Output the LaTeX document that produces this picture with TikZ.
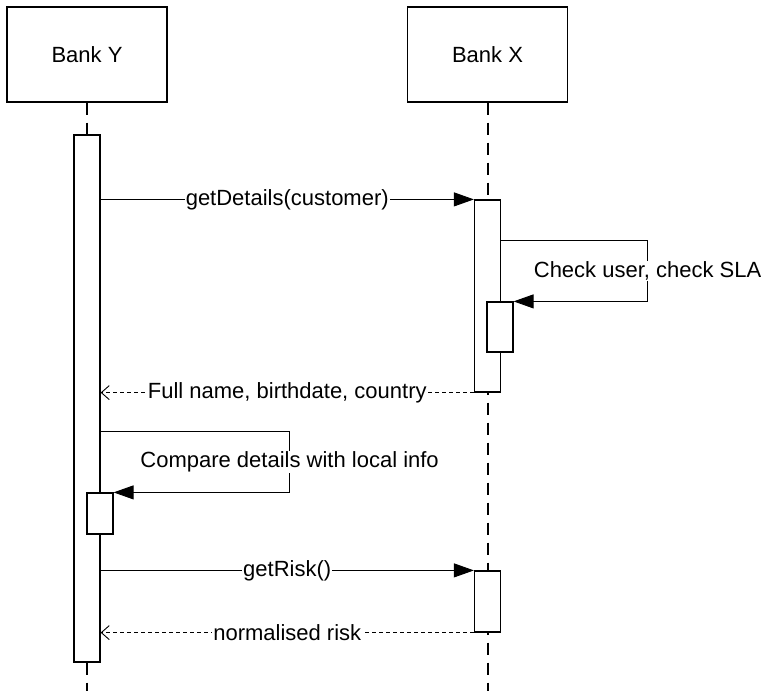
\documentclass[tikz,border=0pt]{standalone}
\usepackage{fontspec}
\setmainfont{Liberation Sans}
\usetikzlibrary{positioning,calc,arrows.meta}

\begin{document}
\begin{tikzpicture}[
  x=1pt, y=-1pt,
  every node/.style={font=\fontsize{22}{26}\selectfont, align=center},
  actor/.style={draw, line width=1.3pt, minimum width=160pt, minimum height=95pt, inner sep=0pt},
  life/.style={line width=2pt, dash pattern=on 12pt off 8pt},
  act/.style={draw, fill=white, line width=1.2pt, minimum width=26pt, inner sep=0pt},
  call/.style={line width=0.9pt, -{Triangle[length=20pt,width=14pt]}},
  reply/.style={line width=0.9pt, dash pattern=on 4pt off 3pt, -{Straight Barb[length=8pt,width=14pt]}},
  lbl/.style={fill=white, inner sep=1pt}
]
\useasboundingbox (0,0) rectangle (761,691);

\node[actor] (banky) at (87,54.5) {Bank Y};
\node[actor] (bankx) at (487.5,54.5) {Bank X};

\coordinate (endy) at (87,691);
\coordinate (endx) at (487.5,691);
\draw[life] (banky.south) -- (endy);
\draw[life] (bankx.south) -- (endx);

\node[act, minimum height=527pt] (acty)   at (87,398.5)  {};
\node[act, minimum height=192pt] (actx1)  at (487.5,296) {};
\node[act, minimum height=50pt]  (actx1b) at (500,327)   {};
\node[act, minimum height=41pt]  (acty1b) at (100,513.5) {};
\node[act, minimum height=61pt]  (actx2)  at (487.5,601.5) {};

\draw[call] (actx1.north west -| acty.east) -- node[lbl] {getDetails(customer)} (actx1.north west);
\draw[call] ([yshift=-41pt]actx1.north east) -| ([xshift=134pt]actx1b.north east)
  node[lbl, pos=0.75] {Check user, check SLA} -- (actx1b.north east);
\draw[reply] (actx1.south west) -- node[lbl] {Full name, birthdate, country} (actx1.south west -| acty.east);

\draw[call] ([yshift=-297pt]acty.north east) -| ([xshift=176pt]acty1b.north east)
  node[lbl, pos=0.75] {Compare details with local info} -- (acty1b.north east);

\draw[call] (actx2.north west -| acty.east) -- node[lbl] {getRisk()} (actx2.north west);
\draw[reply] (actx2.south west) -- node[lbl] {normalised risk} (actx2.south west -| acty.east);

\end{tikzpicture}
\end{document}
